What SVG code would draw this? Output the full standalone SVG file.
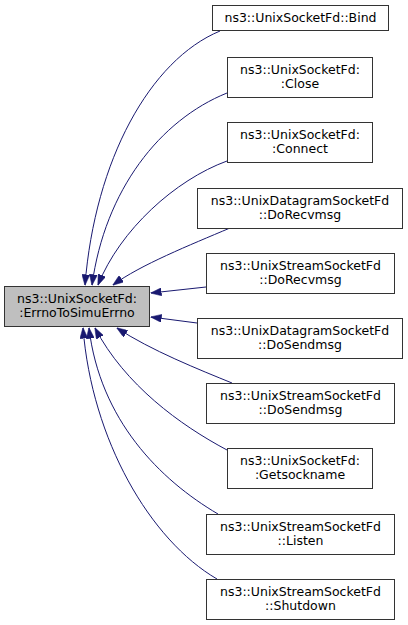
<svg xmlns="http://www.w3.org/2000/svg" width="408" height="625" viewBox="0 0 408 625">
<style>
.n rect{fill:#fff;stroke:#333;stroke-width:1}
#main rect{fill:#bfbfbf}
text{font-family:"DejaVu Sans","Liberation Sans",sans-serif;font-size:12.5px;fill:#000;text-anchor:middle}
#edges path{fill:none;stroke:#191970;stroke-width:1;marker-end:url(#ah)}
</style>
<defs>
<marker id="ah" viewBox="0 0 11 8" refX="10.5" refY="4" markerWidth="11" markerHeight="8" markerUnits="userSpaceOnUse" orient="auto">
<path d="M0,0 L11,4 L0,8 z" fill="#191970" stroke="#191970" stroke-width="0.5"/>
</marker>
</defs>
<rect width="408" height="625" fill="#fff"/>
<g id="edges">
<path d="M220,31 C150,60 95,160 85,285"/>
<path d="M227,93 C160,120 105,190 92,285"/>
<path d="M227,161 C175,180 120,230 98,285"/>
<path d="M230,228 C190,245 140,265 113,285"/>
<path d="M206,287 L151,293"/>
<path d="M197,323 L151,317"/>
<path d="M232,383 C200,370 150,350 117,328"/>
<path d="M227,450 C180,425 125,385 95,328"/>
<path d="M218,514 C160,480 100,420 89,328"/>
<path d="M217,579 C150,540 92,440 83,328"/>
</g>
<g id="main" class="n"><rect x="4.5" y="286.5" width="145" height="40"/><text x="77" y="303">ns3::UnixSocketFd:</text><text x="77" y="317">:ErrnoToSimuErrno</text></g>
<g id="bind" class="n"><rect x="212.5" y="5.5" width="176" height="25"/><text x="300.5" y="22">ns3::UnixSocketFd::Bind</text></g>
<g id="close" class="n"><rect x="227.5" y="57.5" width="145" height="40"/><text x="300" y="74">ns3::UnixSocketFd:</text><text x="300" y="88">:Close</text></g>
<g id="connect" class="n"><rect x="227.5" y="122.5" width="145" height="40"/><text x="300" y="139">ns3::UnixSocketFd:</text><text x="300" y="153">:Connect</text></g>
<g id="dgrecv" class="n"><rect x="197.5" y="188.5" width="205" height="40"/><text x="300" y="205">ns3::UnixDatagramSocketFd</text><text x="300" y="219">::DoRecvmsg</text></g>
<g id="srecv" class="n"><rect x="206.5" y="253.5" width="188" height="40"/><text x="300.5" y="270">ns3::UnixStreamSocketFd</text><text x="300.5" y="284">::DoRecvmsg</text></g>
<g id="dgsend" class="n"><rect x="197.5" y="318.5" width="205" height="40"/><text x="300" y="335">ns3::UnixDatagramSocketFd</text><text x="300" y="349">::DoSendmsg</text></g>
<g id="ssend" class="n"><rect x="206.5" y="383.5" width="188" height="40"/><text x="300.5" y="400">ns3::UnixStreamSocketFd</text><text x="300.5" y="414">::DoSendmsg</text></g>
<g id="getsock" class="n"><rect x="227.5" y="448.5" width="145" height="40"/><text x="300" y="465">ns3::UnixSocketFd:</text><text x="300" y="479">:Getsockname</text></g>
<g id="listen" class="n"><rect x="206.5" y="514.5" width="188" height="40"/><text x="300.5" y="531">ns3::UnixStreamSocketFd</text><text x="300.5" y="545">::Listen</text></g>
<g id="shutdown" class="n"><rect x="206.5" y="579.5" width="188" height="40"/><text x="300.5" y="596">ns3::UnixStreamSocketFd</text><text x="300.5" y="610">::Shutdown</text></g>
</svg>
